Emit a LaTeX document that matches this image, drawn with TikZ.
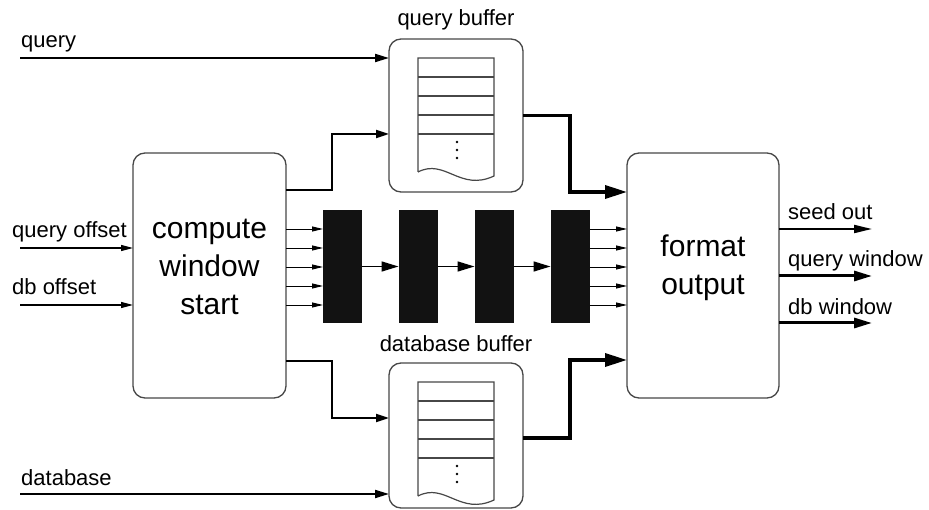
\documentclass[tikz,border=0pt]{standalone}
\usepackage{fontspec}
\setmainfont{Liberation Sans}
\usetikzlibrary{arrows.meta,calc}

\begin{document}
\begin{tikzpicture}[x=1pt,y=-1pt,
  frame/.style={draw=black!72, line width=1.3pt, rounded corners=12pt,
                inner sep=0pt, outer sep=0pt},
  stage/.style={fill=black!93, draw=none, minimum width=39pt,
                minimum height=113pt, inner sep=0pt, outer sep=0pt},
  lbl/.style={font=\fontsize{22}{26}\selectfont, inner sep=0pt, anchor=base west},
  toplbl/.style={font=\fontsize{22}{26}\selectfont, inner sep=0pt, anchor=base},
  big/.style={font=\fontsize{30}{38}\selectfont, align=center, inner sep=0pt, anchor=base},
  listline/.style={draw=black!72, line width=1.2pt},
  feed/.style={line width=2pt, -{Triangle[length=14pt,width=8pt]}},
  side/.style={line width=1.3pt, -{Triangle[length=12pt,width=6pt]}},
  bus/.style={line width=0.9pt, -{Triangle[length=11pt,width=5pt]}},
  chain/.style={line width=1.5pt, -{Triangle[length=17pt,width=10pt]}},
  branch/.style={line width=2pt, -{Triangle[length=13pt,width=8pt]}},
  heavy/.style={line width=3.5pt, -{Triangle[length=22pt,width=13pt]}},
  outthin/.style={line width=2pt, -{Triangle[length=18pt,width=8pt]}},
  outthick/.style={line width=3pt, -{Triangle[length=18pt,width=10pt]}}
]
\useasboundingbox (0,0) rectangle (929,510);

% main blocks
\node[frame, minimum width=153pt, minimum height=245pt] (compute) at (209.5,275.5) {};
\node[frame, minimum width=152pt, minimum height=245pt] (format) at (703,275.5) {};
\node[frame, minimum width=134pt, minimum height=153pt] (qbuf) at (456,115.5) {};
\node[frame, minimum width=134pt, minimum height=145pt] (dbuf) at (456,435.5) {};

% block captions (base anchor sits on the last line)
\node[big] (computetext) at (209.5,315) {compute\\window\\start};
\node[big] (formattext) at (703,295) {format\\output};

\node[toplbl] (qbuflabel) at (456,26) {query buffer};
\node[toplbl] (dbuflabel) at (456,352) {database buffer};

% pipeline stages
\node[stage] (b1) at (342.5,266.5) {};
\node[stage] (b2) at (418,266.5) {};
\node[stage] (b3) at (494,266.5) {};
\node[stage] (b4) at (570,266.5) {};

% buffer contents: a paper list with ruled entries
\foreach \b in {qbuf,dbuf}{
  \begin{scope}[shift={(\b.north west)}]
    \draw[listline] (29,133) -- (29,19) -- (105,19) -- (105,137)
      .. controls (71,153) and (56,119) .. (29,133);
    \foreach \yy in {38,57,76,95}
      \draw[listline] (29,\yy) -- (105,\yy);
    \foreach \yy in {103,111,119}
      \fill (68,\yy) circle (1.4pt);
  \end{scope}
}

% external inputs
\coordinate (qin) at (20,58);
\coordinate (dbin) at (20,494);
\coordinate (qoff) at (20,248);
\coordinate (dboff) at (20,305);
\draw[feed] (qin) -- (qin -| qbuf.west);
\draw[feed] (dbin) -- (dbin -| dbuf.west);
\draw[side] (qoff) -- (qoff -| compute.west);
\draw[side] (dboff) -- (dboff -| compute.west);
\node[lbl] (qinlabel) at (21,48) {query};
\node[lbl] (dbinlabel) at (21,485) {database};
\node[lbl] (qofflabel) at (12,238) {query offset};
\node[lbl] (dbofflabel) at (12,295) {db offset};

% window start to the buffers
\draw[branch] ($(compute.north east)+(0,37)$) -- ++(46,0)
  |- ($(qbuf.north west)+(0,95)$);
\draw[branch] ($(compute.south east)+(0,-37)$) -- ++(46,0)
  |- ($(dbuf.north west)+(0,55)$);

% buses into and out of the stage chain
\foreach \d in {19,38,57,76,95}{
  \draw[bus] ($(compute.east |- b1.north)+(0,\d)$) -- ($(b1.north west)+(0,\d)$);
  \draw[bus] ($(b4.north east)+(0,\d)$) -- ($(format.west |- b4.north)+(0,\d)$);
}
\draw[chain] (b1.east) -- (b2.west);
\draw[chain] (b2.east) -- (b3.west);
\draw[chain] (b3.east) -- (b4.west);

% buffers to the formatter
\draw[heavy] (qbuf.east) -- ++(47,0) |- ($(format.north west)+(0,39)$);
\draw[heavy] ($(dbuf.north east)+(0,75)$) -- ++(47,0) |- ($(format.south west)+(0,-38)$);

% outputs
\coordinate (seedend) at (872,229);
\coordinate (qwinend) at (872,276);
\coordinate (dbwinend) at (872,323);
\draw[outthin] (seedend -| format.east) -- (seedend);
\draw[outthick] (qwinend -| format.east) -- (qwinend);
\draw[outthick] (dbwinend -| format.east) -- (dbwinend);
\node[lbl] (seedlabel) at (788,220) {seed out};
\node[lbl] (qwinlabel) at (788,267) {query window};
\node[lbl] (dbwinlabel) at (788,315) {db window};
\end{tikzpicture}
\end{document}
